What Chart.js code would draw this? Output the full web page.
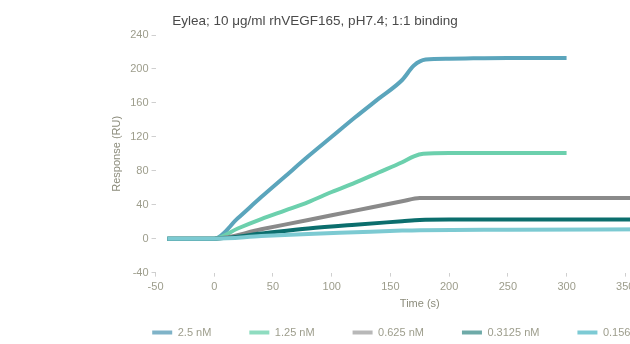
<!DOCTYPE html>
<html>
<head>
<meta charset="utf-8">
<script src="https://cdn.jsdelivr.net/npm/chart.js@4"></script>
<style>
  html, body { margin: 0; padding: 0; background: #fff; width: 630px; height: 344px; overflow: hidden; }
  #wrap { position: absolute; left: 0; top: 0; width: 800px; height: 344px; }
  #title { position: absolute; left: 0; top: 13px; width: 630px; text-align: center;
           font: 13.5px "Liberation Sans", Arial, sans-serif; color: #4a4a4a; }
</style>
</head>
<body>
<div id="wrap"><canvas id="c" width="800" height="344"></canvas></div>
<div id="title">Eylea; 10 μg/ml rhVEGF165, pH7.4; 1:1 binding</div>
<script>
// Analyte concentrations
const seriesLabels = ['2.5 nM', '1.25 nM', '0.625 nM', '0.3125 nM', '0.156 nM'];

// Sensorgrams: time (s) and response (RU) for each concentration
const time_2_5 = [-40, 0, 20, 40, 60, 80, 100, 120, 140, 160, 170, 180, 200, 250, 300];
const resp_2_5 = [0, 0, 24, 49, 73, 97, 120, 143, 165, 187, 204, 211, 212, 213, 213];

const time_1_25 = [-40, 0, 20, 40, 60, 80, 100, 120, 140, 160, 170, 178, 200, 250, 300];
const resp_1_25 = [0, 0, 12, 23, 33, 43, 55, 66, 78, 90, 97, 100, 101, 101, 101];

const time_0_625 = [-40, 0, 40, 80, 120, 160, 175, 200, 250, 300, 375];
const resp_0_625 = [0, 0, 11, 22, 33, 44, 48, 48, 48, 48, 48];

const time_0_3125 = [-40, 0, 40, 80, 120, 160, 175, 200, 250, 300, 375];
const resp_0_3125 = [0, 0, 6, 12, 16.5, 20.5, 22, 22.5, 22.5, 22.5, 22.5];

const time_0_156 = [-40, 0, 40, 80, 120, 160, 175, 250, 375];
const resp_0_156 = [0, 0, 3, 5.5, 7.5, 9.5, 10, 10.5, 11];

// Axis ticks
const xTicks = [-50, 0, 50, 100, 150, 200, 250, 300, 350, 400];
const yTicks = [-40, 0, 40, 80, 120, 160, 200, 240];

const lineColors   = ['#5ba5bc', '#6cd0ad', '#8a8a8a', '#0b6e6d', '#7ccad2'];
const legendColors = ['#7fb3c8', '#8fdcc0', '#b8b8b8', '#6eaaa8', '#7dcad4'];

const times = [time_2_5, time_1_25, time_0_625, time_0_3125, time_0_156];
const resps = [resp_2_5, resp_1_25, resp_0_625, resp_0_3125, resp_0_156];

const datasets = seriesLabels.map((label, i) => ({
  label,
  data: times[i].map((t, k) => ({ x: t, y: resps[i][k] })),
  borderColor: lineColors[i],
  backgroundColor: legendColors[i],
  borderWidth: 4,
  pointRadius: 0,
  cubicInterpolationMode: 'monotone',
  fill: false,
  order: seriesLabels.length - i
}));

Chart.defaults.font.family = '"Liberation Sans", Arial, sans-serif';
Chart.defaults.font.size = 11;
Chart.defaults.color = '#9d9d8c';

new Chart(document.getElementById('c'), {
  type: 'line',
  data: { datasets },
  options: {
    responsive: false,
    animation: false,
    layout: { padding: { left: 106, right: 83, top: 35, bottom: -4 } },
    plugins: {
      tooltip: { enabled: false },
      title: { display: false },
      legend: {
        position: 'bottom',
        labels: {
          boxWidth: 20,
          boxHeight: 4,
          padding: 16,
          color: '#9d9d8c',
          sort: (a, b) => a.datasetIndex - b.datasetIndex,
          generateLabels: (chart) => {
            const items = Chart.defaults.plugins.legend.labels.generateLabels(chart);
            return items.map(it => Object.assign(it, {
              text: it.text + '\u2003\u2003',
              lineWidth: 0,
              strokeStyle: 'rgba(0,0,0,0)'
            }));
          }
        }
      }
    },
    scales: {
      x: {
        type: 'linear',
        min: -50,
        max: 400,
        afterBuildTicks: (s) => { s.ticks = xTicks.map(v => ({ value: v })); },
        grid: { drawOnChartArea: false, drawTicks: true, tickLength: 4, color: '#cfcfcf' },
        border: { display: false },
        ticks: { padding: 4, maxRotation: 0 },
        title: { display: true, text: 'Time (s)', color: '#8c8c7c', padding: { top: 0, bottom: 0 } }
      },
      y: {
        type: 'linear',
        min: -40,
        max: 240,
        afterBuildTicks: (s) => { s.ticks = yTicks.map(v => ({ value: v })); },
        grid: { drawOnChartArea: false, drawTicks: true, tickLength: 4, color: '#cfcfcf' },
        border: { display: false },
        ticks: { padding: 3 },
        title: { display: true, text: 'Response (RU)', color: '#8c8c7c' }
      },
      y2: {
        type: 'linear',
        position: 'right',
        display: true,
        grid: { display: false },
        border: { display: false },
        ticks: { display: false },
        afterFit: (s) => { s.width = 33; }
      }
    }
  }
});
</script>
</body>
</html>
